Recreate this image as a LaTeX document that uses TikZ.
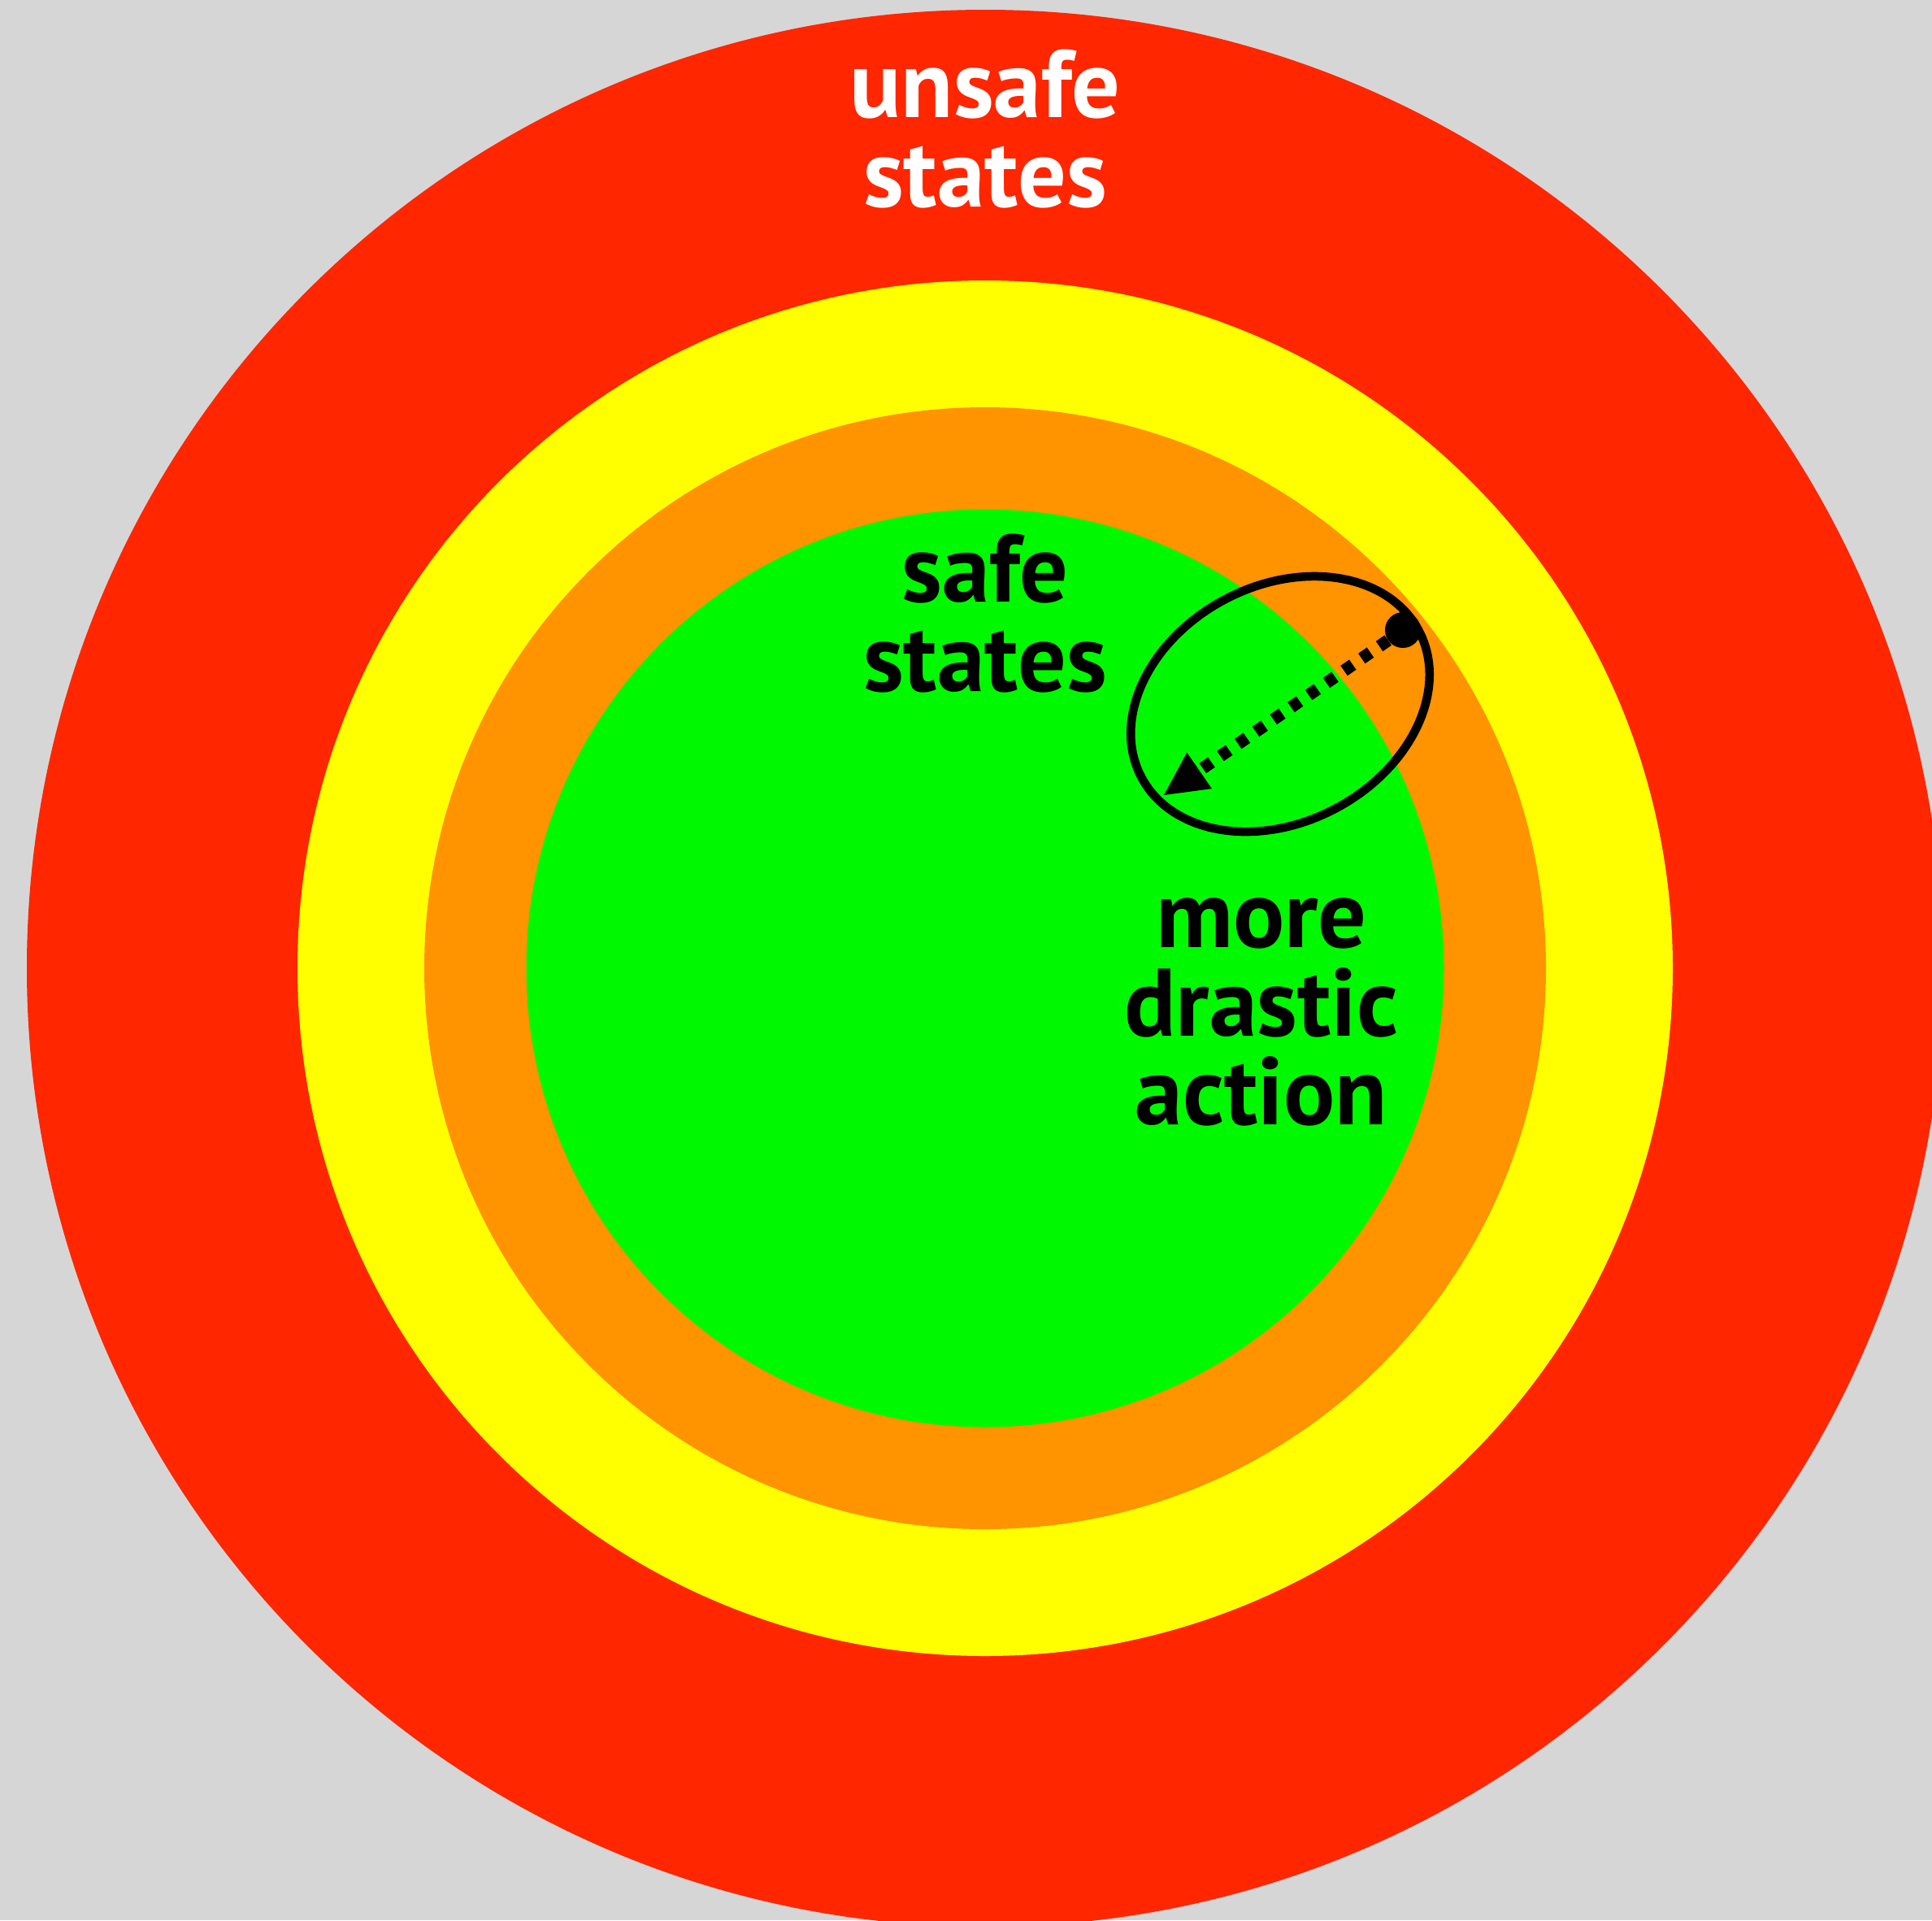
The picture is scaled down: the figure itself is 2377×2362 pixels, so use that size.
\documentclass[tikz,border=0pt]{standalone}
\usepackage{fontspec}
\setmainfont{PT Sans}
\usetikzlibrary{arrows.meta}
\definecolor{bgcol}{HTML}{D6D6D6}
\definecolor{ringred}{HTML}{FF2600}
\definecolor{ringyellow}{HTML}{FFFF00}
\definecolor{ringorange}{HTML}{FF9300}
\definecolor{ringgreen}{HTML}{00F900}
\tikzset{
  label/.style={align=center, inner sep=0pt, font=\bfseries\fontsize{118}{110}\selectfont},
  dotline/.style={line width=15pt, dash pattern=on 13pt off 13.4pt,
    -{Triangle[length=53pt,width=54pt,line width=0pt]}},
}
\begin{document}
\begin{tikzpicture}[x=1pt,y=-1pt]
\useasboundingbox (0,0) rectangle (2377,2362);
\clip (0,0) rectangle (2377,2362);
\fill[bgcol] (0,0) rectangle (2377,2362);
\coordinate (c) at (1212,1191);
\fill[ringred] (c) circle[radius=1179];
\fill[ringyellow] (c) circle[radius=846];
\fill[ringorange] (c) circle[radius=690];
\fill[ringgreen] (c) circle[radius=564.5];
\node[label, text=white] (unsafe) at (1212,159) {unsafe\\states};
\node[label] (safe) at (1212,755) {safe\\states};
\node[label, font=\bfseries\fontsize{118}{109}\selectfont] (drastic) at (1552,1245) {more\\drastic\\action};
\draw[line width=10.5pt, rotate around={27.8:(1575,866)}] (1575,866) ellipse [x radius=193, y radius=145.5];
\node[circle, fill=black, minimum size=44pt, inner sep=0pt] (start) at (1726,775) {};
\coordinate (tip) at (1432,978);
\draw[dotline] (start) -- (tip);
\end{tikzpicture}
\end{document}
